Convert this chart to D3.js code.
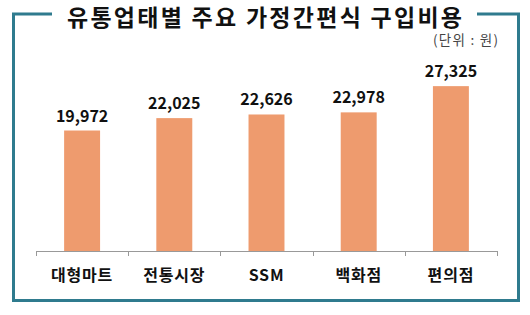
<!DOCTYPE html>
<html>
<head>
<meta charset="utf-8">
<script src="https://cdn.jsdelivr.net/npm/d3@7"></script>
<style>
  body { margin: 0; background: #fff; }
  svg { display: block; }
  text { font-family: "Noto Sans CJK KR", "Noto Sans", sans-serif; }
</style>
</head>
<body>
<div id="chart"></div>
<script>
"use strict";

const titleText = "유통업태별 주요 가정간편식 구입비용";
const unitText = "(단위 : 원)";
const categories = ["대형마트", "전통시장", "SSM", "백화점", "편의점"];
const values = [19972, 22025, 22626, 22978, 27325];

const width = 530, height = 315;
const margin = { left: 36, right: 33, top: 70, bottom: 64 };
const frameColor = "#2f7b8e";
const barColor = "#ee9b6e";

const svg = d3.select("#chart").append("svg")
    .attr("width", width)
    .attr("height", height);

// frame round the chart, broken at the top for the title
const frame = d3.path();
frame.moveTo(52, 14);
frame.lineTo(13.5, 14);
frame.lineTo(13.5, 300.5);
frame.lineTo(518.5, 300.5);
frame.lineTo(518.5, 14);
frame.lineTo(477, 14);
svg.append("path")
    .attr("d", frame.toString())
    .attr("fill", "none")
    .attr("stroke", frameColor)
    .attr("stroke-width", 3);

svg.append("text")
    .attr("x", 67)
    .attr("y", 26)
    .attr("font-size", 23)
    .attr("font-weight", 700)
    .attr("fill", "#111")
    .attr("textLength", 395)
    .attr("lengthAdjust", "spacing")
    .text(titleText);

svg.append("text")
    .attr("x", 433)
    .attr("y", 45)
    .attr("font-size", 13.5)
    .attr("fill", "#444")
    .attr("textLength", 65)
    .attr("lengthAdjust", "spacing")
    .text(unitText);

const x = d3.scaleBand()
    .domain(categories)
    .range([margin.left, width - margin.right])
    .paddingInner(0.61)
    .paddingOuter(0.305);

const y = d3.scaleLinear()
    .domain([0, 30000])
    .range([height - margin.bottom, margin.top]);

const baseY = y(0);

svg.append("g")
    .selectAll("rect")
    .data(values)
    .join("rect")
    .attr("x", (d, i) => x(categories[i]))
    .attr("y", d => y(d))
    .attr("width", x.bandwidth())
    .attr("height", d => baseY - y(d))
    .attr("fill", barColor);

svg.append("g")
    .selectAll("text")
    .data(values)
    .join("text")
    .attr("x", (d, i) => x(categories[i]) + x.bandwidth() / 2)
    .attr("y", d => y(d) - 9)
    .attr("text-anchor", "middle")
    .attr("font-size", 16)
    .attr("font-weight", 700)
    .attr("fill", "#111")
    .text(d => d3.format(",")(d));

// category axis with ticks between the bands
const axisG = svg.append("g");
const step = x.step();
const r = x.range();
axisG.append("line")
    .attr("x1", r[0]).attr("x2", r[1])
    .attr("y1", baseY + 0.5).attr("y2", baseY + 0.5)
    .attr("stroke", "#999");
const tickPos = d3.range(categories.length + 1).map(i => r[0] + i * step);
axisG.selectAll(".tick")
    .data(tickPos)
    .join("line")
    .attr("x1", d => Math.round(d) + 0.5).attr("x2", d => Math.round(d) + 0.5)
    .attr("y1", baseY).attr("y2", baseY + 5)
    .attr("stroke", "#999");

axisG.selectAll(".cat")
    .data(categories)
    .join("text")
    .attr("x", d => x(d) + x.bandwidth() / 2)
    .attr("y", 281)
    .attr("text-anchor", "middle")
    .attr("font-size", 16)
    .attr("font-weight", 700)
    .attr("letter-spacing", 0.8)
    .attr("fill", "#111")
    .text(d => d);
</script>
</body>
</html>
